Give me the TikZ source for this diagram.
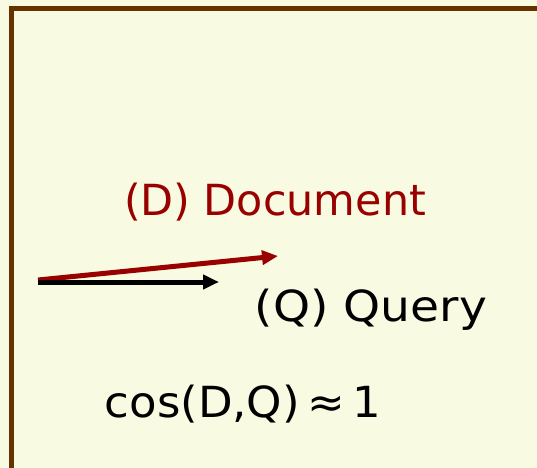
\documentclass[tikz,border=0pt]{standalone}
\usepackage{fontspec}
\setmainfont{DejaVu Sans}
\usetikzlibrary{arrows.meta}
\definecolor{paper}{HTML}{F8FAE2}
\definecolor{framebrown}{HTML}{663300}
\definecolor{docred}{HTML}{990000}
\tikzset{
  label text/.style={inner sep=0pt, anchor=center, font=\fontsize{43}{50}\selectfont},
  vec/.style={line width=5bp, -{Triangle[length=16bp, width=14bp]}},
}
\begin{document}
\begin{tikzpicture}[x=1bp,y=-1bp]
  \fill[paper] (0,0) rectangle (537,468);
  \useasboundingbox (0,0) rectangle (537,468);
  % frame open to the right and bottom
  \draw[framebrown, line width=5bp] (11,468) -- (11,9) -- (537,9);
  % labels
  \node[label text, text=docred] (doc) at (275,202) {(D) Document};
  \node[label text] (qry) at (371,310) {\scalebox{1.1}[1]{(Q) Query}};
  \node[label text] (cos) at (243,404) {\scalebox{1.05}[1]{cos(D,Q)\,≈\,1}};
  % vectors
  \coordinate (o1) at (38,280);
  \coordinate (o2) at (38,282);
  \coordinate (d) at (278,256);
  \coordinate (q) at (219,282);
  \draw[vec, docred] (o1) -- (d);
  \draw[vec, black] (o2) -- (q);
\end{tikzpicture}
\end{document}
